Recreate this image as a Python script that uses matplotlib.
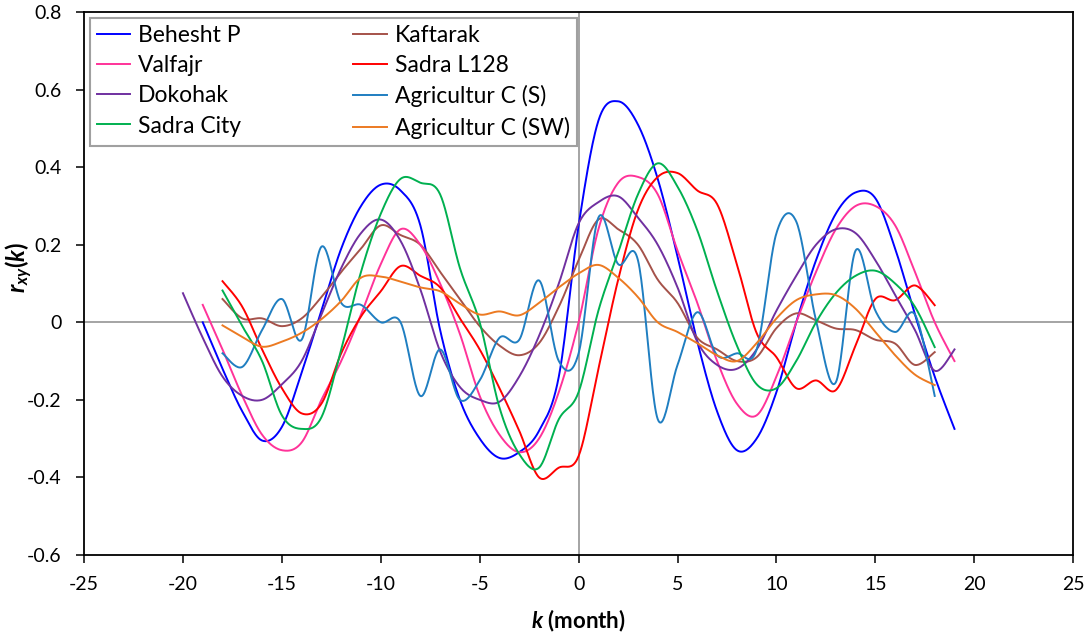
import numpy as np
import matplotlib
matplotlib.use("Agg")
import matplotlib.pyplot as plt
from matplotlib.ticker import FuncFormatter

plt.rcParams['font.family'] = ['Lato', 'DejaVu Sans']
plt.rcParams['axes.unicode_minus'] = False
plt.rcParams['mathtext.fontset'] = 'custom'
plt.rcParams['mathtext.it'] = 'Lato:bold:italic'
plt.rcParams['mathtext.rm'] = 'Lato:bold'
plt.rcParams['mathtext.bf'] = 'Lato:bold'

# lag ranges (months)
k_behesht = list(range(-19, 20))
k_valfajr = list(range(-19, 20))
k_dokohak = list(range(-20, 20))
k_other = list(range(-18, 19))

# cross-correlation r_xy(k)
behesht = [0.0, -0.12, -0.23, -0.305, -0.27, -0.13, 0.03, 0.19, 0.3, 0.355,
           0.34, 0.25, -0.02, -0.2, -0.3, -0.35, -0.335, -0.28, -0.14, 0.25,
           0.52, 0.57, 0.51, 0.37, 0.17, -0.05, -0.23, -0.33, -0.3, -0.18,
           0.0, 0.16, 0.28, 0.335, 0.32, 0.19, 0.02, -0.14, -0.275]
kaftarak = [0.06, 0.01, 0.01, -0.01, 0.01, 0.065, 0.13, 0.19, 0.25, 0.225,
            0.2, 0.13, 0.06, -0.01, -0.06, -0.085, -0.054, 0.04, 0.16, 0.265,
            0.24, 0.2, 0.11, 0.05, -0.04, -0.07, -0.1, -0.09, -0.015, 0.023,
            0.005, -0.016, -0.02, -0.045, -0.055, -0.11, -0.077]
valfajr = [0.045, -0.07, -0.19, -0.29, -0.33, -0.31, -0.2, -0.1, 0.02, 0.15,
           0.24, 0.2, 0.1, -0.03, -0.19, -0.29, -0.335, -0.3, -0.18, 0.0,
           0.24, 0.36, 0.375, 0.33, 0.185, 0.05, -0.1, -0.21, -0.24, -0.14,
           0.0, 0.13, 0.24, 0.3, 0.3, 0.25, 0.13, 0.0, -0.1]
sadra_l128 = [0.106, 0.04, -0.07, -0.17, -0.235, -0.21, -0.08, 0.015, 0.08, 0.145,
              0.12, 0.09, 0.01, -0.07, -0.17, -0.28, -0.4, -0.375, -0.345, -0.12,
              0.11, 0.29, 0.375, 0.385, 0.34, 0.305, 0.15, -0.028, -0.09, -0.17,
              -0.15, -0.175, -0.06, 0.06, 0.057, 0.095, 0.044]
dokohak = [0.075, -0.04, -0.14, -0.19, -0.2, -0.16, -0.1, 0.02, 0.14, 0.23,
           0.265, 0.21, 0.085, -0.075, -0.167, -0.2, -0.205, -0.14, -0.035, 0.1,
           0.255, 0.31, 0.325, 0.27, 0.2, 0.09, -0.05, -0.11, -0.12, -0.07,
           0.03, 0.12, 0.2, 0.24, 0.23, 0.16, 0.07, -0.02, -0.125, -0.07]
agri_s = [-0.08, -0.115, -0.02, 0.06, -0.045, 0.195, 0.05, 0.045, 0.0, 0.0,
          -0.19, -0.07, -0.2, -0.15, -0.04, -0.045, 0.108, -0.1, -0.08, 0.27,
          0.15, 0.16, -0.25, -0.11, 0.026, -0.085, -0.08, -0.07, 0.23, 0.26,
          0.005, -0.155, 0.185, 0.03, -0.025, 0.02, -0.19]
sadra_city = [0.082, -0.01, -0.1, -0.24, -0.275, -0.245, -0.07, 0.13, 0.28, 0.37,
              0.36, 0.33, 0.14, 0.0, -0.22, -0.34, -0.375, -0.25, -0.18, 0.03,
              0.18, 0.33, 0.41, 0.35, 0.237, 0.08, -0.06, -0.16, -0.17, -0.1,
              0.0, 0.075, 0.12, 0.133, 0.1, 0.04, -0.064]
agri_sw = [-0.008, -0.038, -0.063, -0.05, -0.027, 0.008, 0.055, 0.115, 0.118, 0.105,
           0.09, 0.08, 0.048, 0.02, 0.028, 0.018, 0.05, 0.09, 0.126, 0.148,
           0.115, 0.065, 0.0, -0.025, -0.054, -0.085, -0.1, -0.054, 0.01, 0.057,
           0.072, 0.07, 0.035, -0.025, -0.085, -0.135, -0.162]

# Excel draw order
series = [
    ("Behesht P", k_behesht, behesht, "#0000FF"),
    ("Kaftarak", k_other, kaftarak, "#A5524A"),
    ("Valfajr", k_valfajr, valfajr, "#FF3399"),
    ("Sadra L128", k_other, sadra_l128, "#FF0000"),
    ("Dokohak", k_dokohak, dokohak, "#7030A0"),
    ("Agricultur C (S)", k_other, agri_s, "#1F7EC1"),
    ("Sadra City", k_other, sadra_city, "#00B050"),
    ("Agricultur C (SW)", k_other, agri_sw, "#EC7A22"),
]


def excel_smooth(xs, ys, n=24):
    # Excel-style smoothed line: Bezier segments with Catmull-Rom tangents
    P = np.column_stack([xs, ys]).astype(float)
    P = np.vstack([P[0], P, P[-1]])
    t = np.linspace(0, 1, n, endpoint=False)[:, None]
    out = []
    for i in range(1, len(P) - 2):
        p0, p1, p2, p3 = P[i - 1], P[i], P[i + 1], P[i + 2]
        c1 = p1 + (p2 - p0) / 6
        c2 = p2 - (p3 - p1) / 6
        seg = (1 - t)**3 * p1 + 3 * (1 - t)**2 * t * c1 + 3 * (1 - t) * t**2 * c2 + t**3 * p2
        out.append(seg)
    out.append(P[-2][None, :])
    return np.vstack(out)


fig = plt.figure(figsize=(10.87, 6.4), dpi=100)
ax = fig.add_axes([0.0773, 0.133, 0.91, 0.848])

ax.axhline(0, color="#8C8C8C", lw=1.1, zorder=1)
ax.axvline(0, color="#8C8C8C", lw=1.1, zorder=1)

handles = {}
for i, (name, ks, vals, col) in enumerate(series):
    pts = excel_smooth(ks, vals)
    line, = ax.plot(pts[:, 0], pts[:, 1], color=col, lw=1.4, label=name, zorder=2 + i)
    handles[name] = line

ax.set_xlim(-25, 25)
ax.set_ylim(-0.6, 0.8)
ax.set_xticks(np.arange(-25, 26, 5))
ax.set_yticks(np.arange(-0.6, 0.81, 0.2))
ax.yaxis.set_major_formatter(FuncFormatter(lambda v, p: "0" if abs(v) < 1e-9 else f"{v:.1f}"))
ax.xaxis.set_major_formatter(FuncFormatter(lambda v, p: f"{int(round(v))}"))
ax.tick_params(direction="out", length=6, width=1.1, labelsize=14, color="black")
ax.tick_params(axis="x", pad=9)
ax.tick_params(axis="y", pad=10)
for s in ax.spines.values():
    s.set_linewidth(1.3)
    s.set_color("black")

ax.set_xlabel("$k$ (month)", fontsize=16, fontweight="bold")
ax.set_ylabel("$r_{xy}(k)$", fontsize=17, fontweight="bold")
ax.xaxis.set_label_coords(0.5, -0.098)
ax.yaxis.set_label_coords(-0.05, 0.53)

order = ["Behesht P", "Valfajr", "Dokohak", "Sadra City",
         "Kaftarak", "Sadra L128", "Agricultur C (S)", "Agricultur C (SW)"]
leg = ax.legend([handles[n] for n in order], order, ncol=2, loc="upper left",
                bbox_to_anchor=(0.006, 0.989), borderaxespad=0, fontsize=16.5,
                handlelength=1.45, handletextpad=0.35, columnspacing=4.9,
                labelspacing=0.4, borderpad=0.3, fancybox=False,
                edgecolor="#A0A0A0", framealpha=1)
leg.get_frame().set_linewidth(1.5)
leg.set_zorder(20)

fig.savefig("out.png", dpi=100)
